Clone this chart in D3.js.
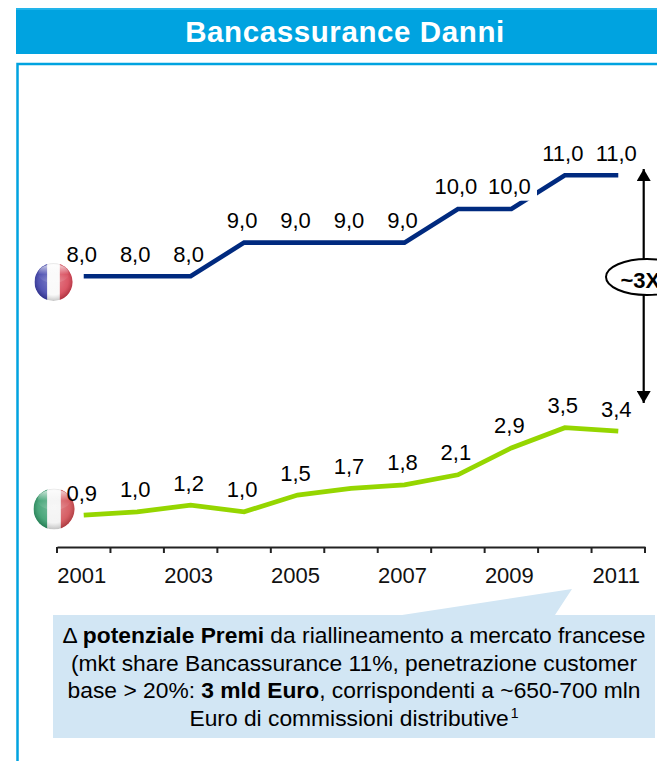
<!DOCTYPE html>
<html><head><meta charset="utf-8">
<script src="https://cdn.jsdelivr.net/npm/d3@7/dist/d3.min.js"></script>
<style>html,body{margin:0;padding:0;background:#fff;overflow:hidden}svg{display:block}text{font-family:"Liberation Sans",Arial,sans-serif}</style>
</head><body><svg id="c" width="657" height="761"></svg>
<script>
const years = ["2001","2002","2003","2004","2005","2006","2007","2008","2009","2010","2011"];
const tickLabels = ["2001","2003","2005","2007","2009","2011"];
const france = [8,8,8,9,9,9,9,10,10,11,11];
const italy = [0.9,1.0,1.2,1.0,1.5,1.7,1.8,2.1,2.9,3.5,3.4];
const title = "Bancassurance Danni";
const multiple = "~3X";

const svg = d3.select("#c");
const x = d3.scaleBand().domain(years).range([57,645]);
const y = d3.scaleLinear().domain([0,11]).range([545.5,175.3]);
const px = d => x(d)+x.bandwidth()/2;
const fmt = v => v.toFixed(1).replace(".",",");
const FS = 22;

const defs = svg.append("defs");
const gloss = defs.append("radialGradient").attr("id","gloss").attr("cx","50%").attr("cy","45%").attr("r","55%");
gloss.append("stop").attr("offset","0%").attr("stop-color","#fff").attr("stop-opacity",0.45);
gloss.append("stop").attr("offset","70%").attr("stop-color","#fff").attr("stop-opacity",0.25);
gloss.append("stop").attr("offset","100%").attr("stop-color","#555").attr("stop-opacity",0.3);
const shine = defs.append("linearGradient").attr("id","shine").attr("x1",0).attr("x2",0).attr("y1",0).attr("y2",1);
shine.append("stop").attr("offset","0%").attr("stop-color","#fff").attr("stop-opacity",0.8);
shine.append("stop").attr("offset","55%").attr("stop-color","#fff").attr("stop-opacity",0);
shine.append("stop").attr("offset","100%").attr("stop-color","#fff").attr("stop-opacity",0.15);

// header and frame
svg.append("rect").attr("x",16).attr("y",8).attr("width",641).attr("height",46).attr("fill","#00a3e0");
svg.append("rect").attr("x",16).attr("y",8).attr("width",641).attr("height",2).attr("fill","#22b4ea");
svg.append("text").attr("x",345).attr("y",42).attr("text-anchor","middle").attr("fill","#fff")
  .attr("font-weight","bold").attr("font-size",29.5).attr("letter-spacing",0.6).text(title);
svg.append("path").attr("d","M17.5 761V64H657").attr("fill","none").attr("stroke","#00a3e0").attr("stroke-width",2.5);

// flags
function flag(cx,cy,r,cols,id){
  const cp = defs.append("clipPath").attr("id",id);
  cp.append("circle").attr("cx",cx).attr("cy",cy).attr("r",r);
  const g = svg.append("g").attr("clip-path",`url(#${id})`);
  cols.forEach((c,i)=>g.append("rect").attr("x",cx-r+i*2*r/3).attr("y",cy-r).attr("width",2*r/3+0.5).attr("height",2*r).attr("fill",c));
  g.append("circle").attr("cx",cx).attr("cy",cy).attr("r",r).attr("fill","url(#gloss)");
  g.append("ellipse").attr("cx",cx).attr("cy",cy-r*0.45).attr("rx",r*0.8).attr("ry",r*0.5).attr("fill","url(#shine)");
}
flag(53.5,282,19,["#1c1f9c","#f7f7f7","#cf1f33"],"fr");
flag(54,509,20.5,["#0f8a50","#efefef","#c92a32"],"it");

// lines
const line = d3.line().x((d,i)=>px(years[i])).y(d=>y(d));
svg.append("path").datum(france).attr("d",line).attr("fill","none").attr("stroke","#002a7f").attr("stroke-width",4.6);
svg.append("path").datum(italy).attr("d",line).attr("fill","none").attr("stroke","#95d600").attr("stroke-width",4.8);

// opaque label box of the 2009 France value, which cuts the line
svg.append("rect").attr("x",488).attr("y",176).attr("width",49).attr("height",24.7).attr("fill","#fff");

// value labels
[france,italy].forEach(s=>{
  svg.append("g").selectAll("text").data(s).join("text")
    .attr("x",(d,i)=>px(years[i])-2).attr("y",d=>y(d)-14.5)
    .attr("text-anchor","middle").attr("font-size",FS).attr("fill","#000").text(fmt);
});

// axis
const axis = d3.axisBottom(x).tickValues([]).tickSize(0);
const axG = svg.append("g").attr("transform","translate(0,547)").call(axis);
axG.select(".domain").attr("stroke","#222").attr("stroke-width",2);
axG.selectAll(".bt").data(years.concat(["end"])).join("line").attr("class","bt")
  .attr("x1",(d,i)=>57+i*x.step()).attr("x2",(d,i)=>57+i*x.step()).attr("y1",0).attr("y2",6)
  .attr("stroke","#222").attr("stroke-width",2);
svg.append("g").selectAll("text").data(tickLabels).join("text")
  .attr("x",d=>px(d)-2).attr("y",583).attr("text-anchor","middle").attr("font-size",FS).attr("fill","#111").text(d=>d);

// arrow and multiple
defs.append("marker").attr("id","ah").attr("viewBox","0 0 12 14").attr("refX",12).attr("refY",7).attr("markerUnits","userSpaceOnUse")
  .attr("markerWidth",12).attr("markerHeight",14).attr("orient","auto")
  .append("path").attr("d","M0 0L12 7L0 14Z").attr("fill","#000");
defs.append("marker").attr("id","ahs").attr("viewBox","0 0 12 14").attr("refX",0).attr("refY",7).attr("markerUnits","userSpaceOnUse")
  .attr("markerWidth",12).attr("markerHeight",14).attr("orient","auto")
  .append("path").attr("d","M12 0L0 7L12 14Z").attr("fill","#000");
svg.append("line").attr("x1",643.7).attr("x2",643.7).attr("y1",169).attr("y2",403).attr("stroke","#000").attr("stroke-width",2.2)
  .attr("marker-start","url(#ahs)").attr("marker-end","url(#ah)");
svg.append("ellipse").attr("cx",647).attr("cy",277).attr("rx",41).attr("ry",18).attr("fill","#fff").attr("stroke","#000").attr("stroke-width",2);
svg.append("text").attr("x",620.5).attr("y",288).attr("font-weight","bold").attr("font-size",22).attr("fill","#000").text(multiple);

// callout
svg.append("path").attr("d","M53 615H402L572 589L555 615H655V738H53Z").attr("fill","#d2e6f4");
const lines = [
 [["\u0394 ",0],["potenziale Premi",1],[" da riallineamento a mercato francese",0]],
 [["(mkt share Bancassurance 11%, penetrazione customer",0]],
 [["base > 20%: ",0],["3 mld Euro",1],[", corrispondenti a ~650-700 mln",0]],
 [["Euro di commissioni distributive",0],["1",2]]
];
const ys=[643,671,698,726];
lines.forEach((l,i)=>{
  const t = svg.append("text").attr("x",354).attr("y",ys[i]).attr("text-anchor","middle").attr("font-size",22.8).attr("fill","#000");
  l.forEach(([s,k])=>{
    const sp=t.append("tspan").text(s);
    if(k===1)sp.attr("font-weight","bold");
    if(k===2)sp.attr("font-size",14).attr("dy",-8).attr("dx",2);
  });
});
</script></body></html>
